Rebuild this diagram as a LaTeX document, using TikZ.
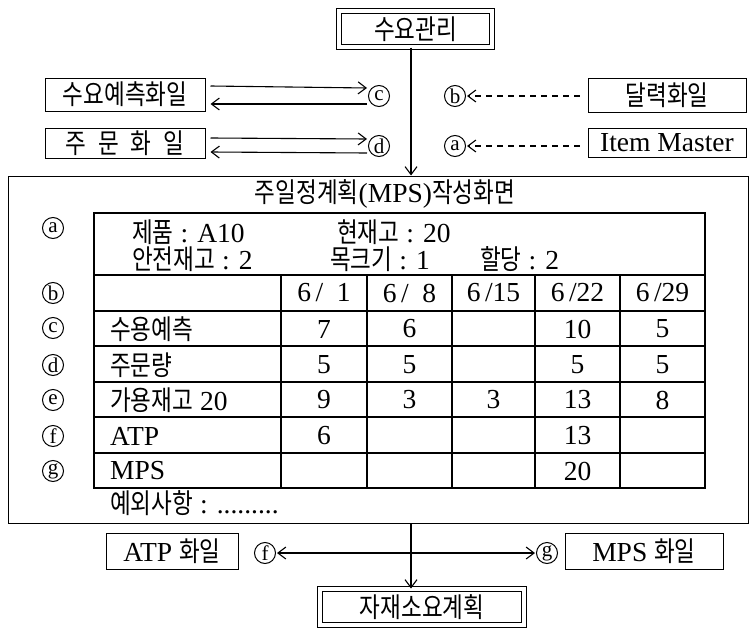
\documentclass[tikz,border=0pt]{standalone}
\usepackage{fontspec}
\setmainfont{Liberation Serif}
\newfontfamily\kr[FakeStretch=0.82]{Noto Sans CJK KR}
\usetikzlibrary{arrows.meta}
\newcommand{\K}[1]{{\kr #1}}
\begin{document}
\begin{tikzpicture}[x=1pt,y=-1pt,
  font=\fontsize{27.5}{30}\selectfont,
  every node/.style={inner sep=0pt},
  fbox/.style={draw, line width=1pt, inner sep=0pt},
  dbox/.style={draw, line width=1pt, double, double distance=3.5pt, inner sep=0pt},
  circ/.style={circle, draw, line width=1pt, minimum size=21pt, inner sep=0pt,
               font=\fontsize{21}{21}\selectfont},
  tip/.tip={Straight Barb[length=8pt,width=12pt,line width=1.1pt]},
  arr/.style={line width=1.1pt, -tip},
  darr/.style={line width=1.1pt, tip-tip},
  dsh/.style={arr, dash pattern=on 6pt off 5pt},
  tbl/.style={line width=1.3pt},
  lbl/.style={anchor=west}
]
\useasboundingbox (0,0) rectangle (753,629);

% top box
\node[dbox, minimum width=153pt, minimum height=36pt] (sk) at (415.5,29) {\K{수요관리}};

% left files
\node[fbox, minimum width=160pt, minimum height=33pt] (f1) at (125,94.5) {\K{수요예측화일}};
\node[fbox, minimum width=160pt, minimum height=30pt] (f2) at (125,143) {\K{주\hspace{12pt}문\hspace{12pt}화\hspace{12pt}일}};
% right files
\node[fbox, minimum width=158pt, minimum height=34pt] (r1) at (667,95.5) {\K{달력화일}};
\node[fbox, minimum width=158pt, minimum height=29pt] (r2) at (667,142.5) {Item Master};

% circled letters top
\node[circ] (tc) at (379,96) {c};
\node[circ] (td) at (379,146) {d};
\node[circ] (tb) at (455,96) {b};
\node[circ] (ta) at (455,146) {a};

\draw[arr] ([xshift=5pt,yshift=8.5pt]f1.east) -- ([xshift=-1pt,yshift=8pt]tc.west);
\draw[arr] ([xshift=-1pt,yshift=-8pt]tc.west) -- ([xshift=5pt,yshift=-9.5pt]f1.east);
\draw[arr] ([xshift=5pt,yshift=5pt]f2.east) -- ([xshift=-1pt,yshift=7pt]td.west);
\draw[arr] ([xshift=-1pt,yshift=-7pt]td.west) -- ([xshift=5pt,yshift=-9pt]f2.east);
\draw[dsh] ([xshift=-8pt]r1.west |- tb) -- ([xshift=1pt]tb.east);
\draw[dsh] ([xshift=-8pt]r2.west |- ta) -- ([xshift=1pt]ta.east);

% big box
\node[fbox, minimum width=740pt, minimum height=347pt] (mps) at (378,349.5) {};
\coordinate (vx) at (411,0);
\draw[arr] (sk.south -| vx) -- (vx |- mps.north);

\node (title) at (385,194) {\K{주일정계획}(MPS)\K{작성화면}};

% table grid
\draw[tbl] (94,213) rectangle (705,488);
\foreach \y in {275,311,346,382,417,453} \draw[tbl] (94,\y) -- (705,\y);
\foreach \x in {281,367,452,535,620} \draw[tbl] (\x,275) -- (\x,488);

% row a
\node[lbl] (a1) at (132,232) {\K{제품} : A10};
\node[lbl] (a2) at (337,232) {\K{현재고} : 20};
\node[lbl] (a3) at (132,259) {\K{안전재고} : 2};
\node[lbl] (a4) at (330,259) {\K{목크기} : 1};
\node[lbl] (a5) at (480,259) {\K{할당} : 2};

% circled row letters
\node[circ] (ra) at (53,228) {a};
\node[circ] (rb) at (53,293) {b};
\node[circ] (rc) at (53,328) {c};
\node[circ] (rd) at (53,365) {d};
\node[circ] (re) at (53,400) {e};
\node[circ] (rf) at (53,436) {f};
\node[circ] (rg) at (53,471) {g};

% row labels
\node[lbl] (lc) at (110,329) {\K{수용예측}};
\node[lbl] (ld) at (110,365) {\K{주문량}};
\node[lbl] (le) at (110,400) {\K{가용재고} 20};
\node[lbl] (lf) at (110,436) {ATP};
\node[lbl] (lg) at (110,471) {MPS};

% dates
\node (b1) at (324,293) {6\,/\enspace1};
\node (b2) at (409.5,293) {6\,/\enspace8};
\node (b3) at (493.5,293) {6\,/15};
\node (b4) at (577.5,293) {6\,/22};
\node (b5) at (662.5,293) {6\,/29};
% values
\node (c1) at (324,329) {7};
\node (c2) at (409.5,329) {6};
\node (c4) at (577.5,329) {10};
\node (c5) at (662.5,329) {5};
\node (d1) at (324,365) {5};
\node (d2) at (409.5,365) {5};
\node (d4) at (577.5,365) {5};
\node (d5) at (662.5,365) {5};
\node (e1) at (324,400) {9};
\node (e2) at (409.5,400) {3};
\node (e3) at (493.5,400) {3};
\node (e4) at (577.5,400) {13};
\node (e5) at (662.5,400) {8};
\node (f1v) at (324,436) {6};
\node (f4v) at (577.5,436) {13};
\node (g4v) at (577.5,471) {20};

\node[lbl] (exc) at (110,503) {\K{예외사항} : .........};

% bottom
\node[fbox, minimum width=132pt, minimum height=36pt] (atp) at (172,551) {ATP \K{화일}};
\node[fbox, minimum width=158pt, minimum height=36pt] (mpsf) at (644,551) {MPS \K{화일}};
\node[circ] (bf) at (265,553) {f};
\node[circ] (bg) at (547,553) {g};
\draw[darr] ([xshift=1pt]bf.east) -- ([xshift=-1pt]bg.west);
\node[dbox, minimum width=204pt, minimum height=36pt] (mrp) at (422,607) {\K{자재소요계획}};
\draw[arr] (mps.south -| vx) -- (vx |- mrp.north);
\end{tikzpicture}
\end{document}
